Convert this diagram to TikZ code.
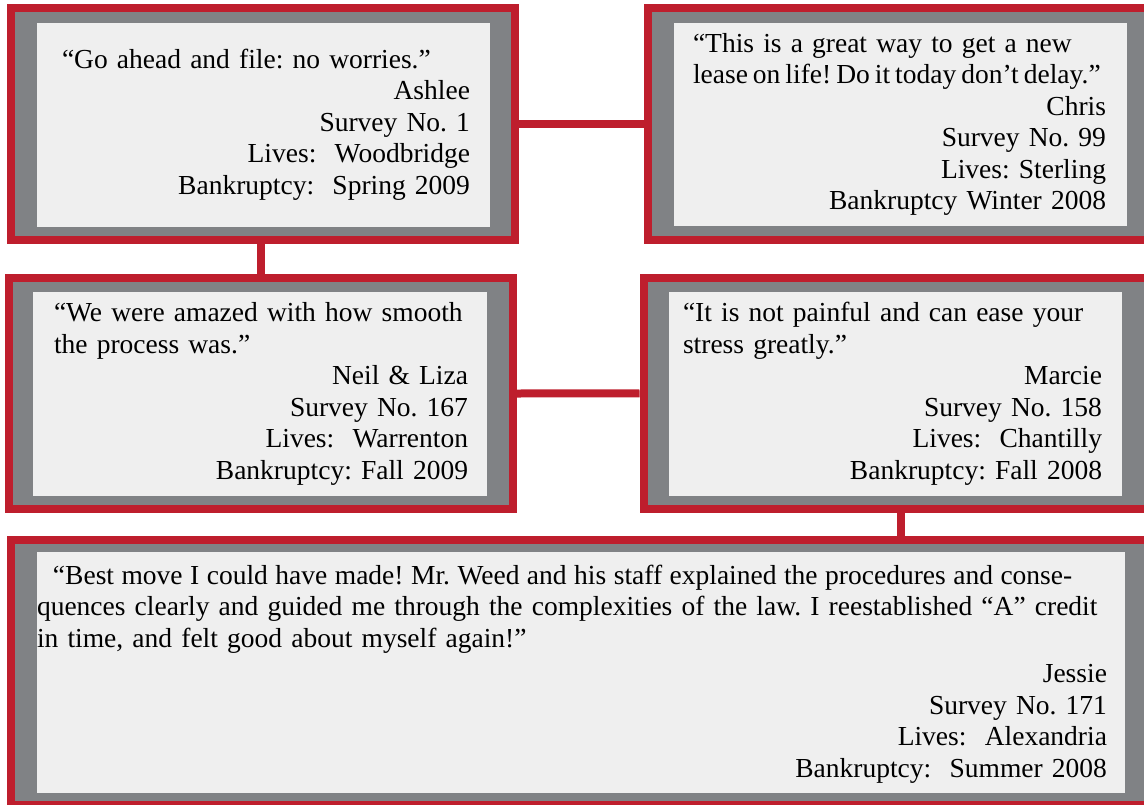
\documentclass[tikz,border=0pt]{standalone}
\usepackage{fontspec}
\setmainfont{Liberation Serif}
\usepackage{tikz}

\definecolor{frameRed}{HTML}{BE1E2D}
\definecolor{frameGray}{HTML}{808285}
\definecolor{panelGray}{HTML}{EFEFEF}
\newcommand{\who}[1]{\hspace*{\fill}#1}
\newcommand{\quotefont}{\fontsize{27.5}{31.5}\selectfont\frenchspacing\spaceskip=8.25pt plus 2pt\relax}

\begin{document}
\begin{tikzpicture}[x=1pt,y=-1pt,
frame/.style={draw=frameRed,fill=frameGray,line width=8pt,inner sep=0pt},
panel/.style={fill=panelGray,inner sep=0pt},
quote/.style={inner sep=0pt,align=left,font=\quotefont},
link/.style={draw=frameRed,line width=8pt}]
\useasboundingbox (0,0) rectangle (1144,804);
\clip (0,0) rectangle (1144,804);

% outer frames
\node[frame,minimum width=504pt,minimum height=232pt] (ashlee) at (263,124) {};
\node[frame,minimum width=522pt,minimum height=232pt] (chris) at (909,124) {};
\node[frame,minimum width=504.5pt,minimum height=231pt] (neil) at (260.75,393.5) {};
\node[frame,minimum width=514pt,minimum height=231.5pt] (marcie) at (900.5,393.25) {};
\node[frame,minimum width=1159pt,minimum height=265pt] (jessie) at (590.5,672.5) {};

% light panels
\node[panel,minimum width=453pt,minimum height=203.5pt] (ashleeIn) at (263.5,124.75) {};
\node[panel,minimum width=452.7pt,minimum height=203.3pt] (chrisIn) at (900.35,124.35) {};
\node[panel,minimum width=453.4pt,minimum height=204.3pt] (neilIn) at (260,393.85) {};
\node[panel,minimum width=452.7pt,minimum height=204.3pt] (marcieIn) at (895.35,393.85) {};
\node[panel,minimum width=1088.3pt,minimum height=240.4pt] (jessieIn) at (580.85,672.5) {};

% texts
\node[quote,text width=408pt] (ashleeTxt) at (266,124.75) {%
“Go ahead and file: no worries.”\\
\who{Ashlee}\\
\who{Survey No. 1}\\
\who{Lives:\ \ Woodbridge}\\
\who{Bankruptcy:\ \ Spring 2009}};

\node[quote,text width=413pt] (chrisTxt) at (899.5,124.35) {%
“This is a great way to get a new\\
\mbox{\spaceskip=5pt lease on life! Do it today don’t delay.”}\\
\who{Chris}\\
\who{Survey No. 99}\\
\who{Lives: Sterling}\\
\who{Bankruptcy Winter 2008}};

\node[quote,text width=414pt] (neilTxt) at (261,393.85) {%
“We were amazed with how smooth\\
the process was.”\\
\who{Neil \& Liza}\\
\who{Survey No. 167}\\
\who{Lives:\ \ Warrenton}\\
\who{Bankruptcy: Fall 2009}};

\node[quote,text width=419pt] (marcieTxt) at (892.5,393.85) {%
“It is not painful and can ease your\\
stress greatly.”\\
\who{Marcie}\\
\who{Survey No. 158}\\
\who{Lives:\ \ Chantilly}\\
\who{Bankruptcy: Fall 2008}};

\node[quote,text width=1070pt] (jessieTxt) at (572,674) {%
\mbox{\hspace*{16pt}\spaceskip=7.5pt “Best move I could have made! Mr. Weed and his staff explained the procedures and conse-}\\
\mbox{quences clearly and guided me through the complexities of the law. I reestablished “A” credit}\\
in time, and felt good about myself again!”\\[4pt]
\who{Jessie}\\
\who{Survey No. 171}\\
\who{Lives:\ \ Alexandria}\\
\who{Bankruptcy:\ \ Summer 2008}};

% connectors
\draw[link] (ashlee.east) -- (chris.west);
\draw[link] (neil.north) -- (neil.north |- ashlee.south);
\draw[link] (neil.east) -- (marcie.west);
\draw[link] (marcie.south) -- (marcie.south |- jessie.north);

\end{tikzpicture}
\end{document}
